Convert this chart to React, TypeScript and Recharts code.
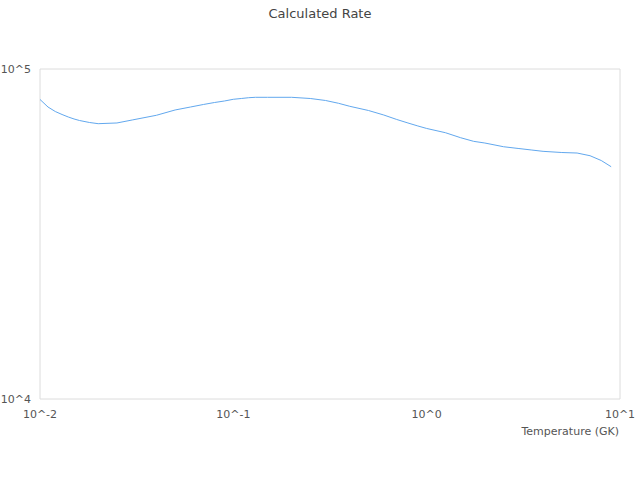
import React from "react";
import { LineChart, Line, XAxis, YAxis, ReferenceArea } from "recharts";

const temperatures = [
  0.01, 0.011, 0.012, 0.013, 0.014, 0.015, 0.016, 0.018, 0.02, 0.025, 0.03, 0.04,
  0.05, 0.06, 0.07, 0.08, 0.09, 0.1, 0.11, 0.12, 0.13, 0.15, 0.2, 0.25, 0.3, 0.35,
  0.4, 0.5, 0.6, 0.7, 0.8, 0.9, 1.0, 1.25, 1.5, 1.75, 2.0, 2.5, 3.0, 3.5, 4.0, 5.0,
  6.0, 7.0, 8.0, 9.0,
];

const rates = [
  80850, 76700, 74330, 72800, 71540, 70560, 69820, 68860, 68280, 68620, 70070, 72400,
  75130, 76700, 78060, 79160, 79990, 80950, 81400, 81850, 82080, 82080, 82080, 81400,
  80270, 78720, 77090, 74860, 72540, 70310, 68620, 67200, 66040, 64120, 61900, 60370,
  59660, 58130, 57410, 56810, 56300, 55840, 55640, 54600, 52800, 50570,
];

const xTicks = [0.01, 0.1, 1, 10];
const yTicks = [10000, 100000];

const chartTitle = "Calculated Rate";
const xTitle = "Temperature (GK)";

const data = temperatures.map((t, i) => ({ t, r: rates[i] }));

const fmt = (v: number) => `10^${Math.round(Math.log10(v))}`;

const FONT = "'DejaVu Sans', sans-serif";
const tickStyle = { fontSize: 11, fill: "#555", fontFamily: FONT };

export default function App() {
  return (
    <div style={{ position: "absolute", left: 0, top: 0, width: 640, height: 480, background: "#fff" }}>
      <div
        style={{
          position: "absolute",
          left: 0,
          top: 6,
          width: 640,
          textAlign: "center",
          fontFamily: FONT,
          fontSize: 13,
          lineHeight: "16px",
          color: "#444",
        }}
      >
        {chartTitle}
      </div>
      <LineChart
        width={640}
        height={480}
        data={data}
        margin={{ top: 69, right: 20, bottom: 41, left: 0 }}
      >
        <XAxis
          dataKey="t"
          type="number"
          scale="log"
          domain={[0.01, 10]}
          ticks={xTicks}
          tickFormatter={fmt}
          allowDataOverflow
          axisLine={false}
          tickLine={false}
          tickSize={6}
          tickMargin={5}
          height={40}
          tick={tickStyle}
          label={{
            value: xTitle,
            position: "insideBottomRight",
            offset: 4,
            dx: 3,
            style: { fontSize: 11, fill: "#555", fontFamily: FONT },
          }}
        />
        <YAxis
          type="number"
          scale="log"
          domain={[10000, 100000]}
          ticks={yTicks}
          tickFormatter={fmt}
          allowDataOverflow
          axisLine={false}
          tickLine={false}
          tickSize={6}
          tickMargin={3}
          width={40}
          tick={tickStyle}
        />
        <ReferenceArea
          x1={0.01}
          x2={10}
          y1={10000}
          y2={100000}
          fill="none"
          fillOpacity={0}
          stroke="#dcdcdc"
          strokeWidth={1}
          ifOverflow="visible"
        />
        <Line
          dataKey="r"
          type="linear"
          stroke="#62a8ee"
          strokeWidth={1}
          dot={false}
          isAnimationActive={false}
        />
      </LineChart>
    </div>
  );
}
